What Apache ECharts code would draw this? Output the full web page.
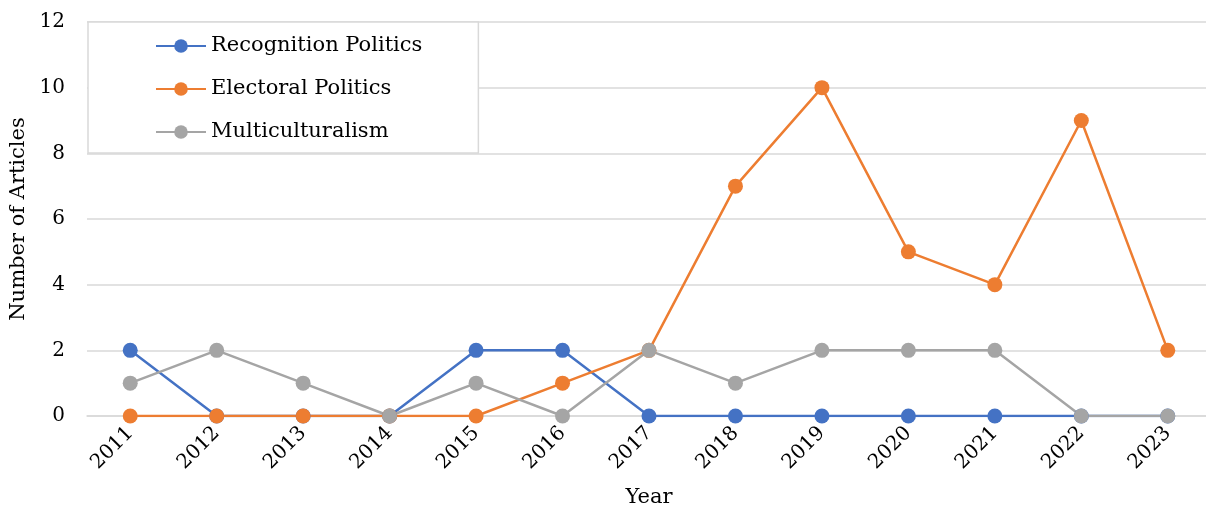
<!DOCTYPE html>
<html>
<head>
<meta charset="utf-8">
<script src="https://cdn.jsdelivr.net/npm/echarts@6/dist/echarts.min.js"></script>
<style>
html,body{margin:0;padding:0;background:#fff;}
#chart{width:1206px;height:507px;}
</style>
</head>
<body>
<div id="chart"></div>
<script>
const years = ['2011','2012','2013','2014','2015','2016','2017','2018','2019','2020','2021','2022','2023'];
const recognitionPolitics = [2,0,0,0,2,2,0,0,0,0,0,0,0];
const electoralPolitics = [0,0,0,0,0,1,2,7,10,5,4,9,2];
const multiculturalism = [1,2,1,0,1,0,2,1,2,2,2,0,0];
const seriesNames = ['Recognition Politics','Electoral Politics','Multiculturalism'];
const colors = ['#4472C4','#ED7D31','#A5A5A5'];

const FONT = '"DejaVu Serif", "Liberation Serif", serif';
const chart = echarts.init(document.getElementById('chart'), null, {renderer:'canvas'});
function mk(name, data, color){
  return {
    name, type:'line', data,
    symbol:'circle', symbolSize:15,
    lineStyle:{color, width:2.5},
    itemStyle:{color},
    emphasis:{disabled:true},
    animation:false
  };
}
chart.setOption({
  animation:false,
  textStyle:{fontFamily:FONT},
  grid:{left:87, right:-5, top:22, bottom:91, outerBoundsMode:'none', containLabel:false},
  legend:{
    orient:'vertical', left:88, top:22,
    backgroundColor:'#ffffff', borderColor:'#d9d9d9', borderWidth:1.5,
    padding:[13,56,10,67],
    itemWidth:50, itemHeight:17, itemGap:21,
    textStyle:{fontFamily:FONT, fontSize:21, color:'#000', lineHeight:22},
    data:seriesNames
  },
  xAxis:{
    type:'category', data:years, boundaryGap:true,
    axisLine:{show:true, lineStyle:{color:'#d9d9d9', width:1.5}},
    axisTick:{show:false},
    axisLabel:{rotate:45, fontSize:20, color:'#000', fontFamily:FONT, margin:14},
    name:'Year', nameLocation:'middle', nameGap:71,
    nameTextStyle:{fontSize:21, color:'#000', fontFamily:FONT}
  },
  yAxis:{
    type:'value', min:0, max:12, interval:2,
    axisLine:{show:false}, axisTick:{show:false},
    splitLine:{lineStyle:{color:'#d9d9d9', width:1.5}},
    axisLabel:{fontSize:20, color:'#000', fontFamily:FONT, margin:22},
    name:'Number of Articles', nameLocation:'middle', nameGap:57,
    nameTextStyle:{fontSize:21, color:'#000', fontFamily:FONT}
  },
  series:[
    mk(seriesNames[0], recognitionPolitics, colors[0]),
    mk(seriesNames[1], electoralPolitics, colors[1]),
    mk(seriesNames[2], multiculturalism, colors[2])
  ]
});
</script>
</body>
</html>
